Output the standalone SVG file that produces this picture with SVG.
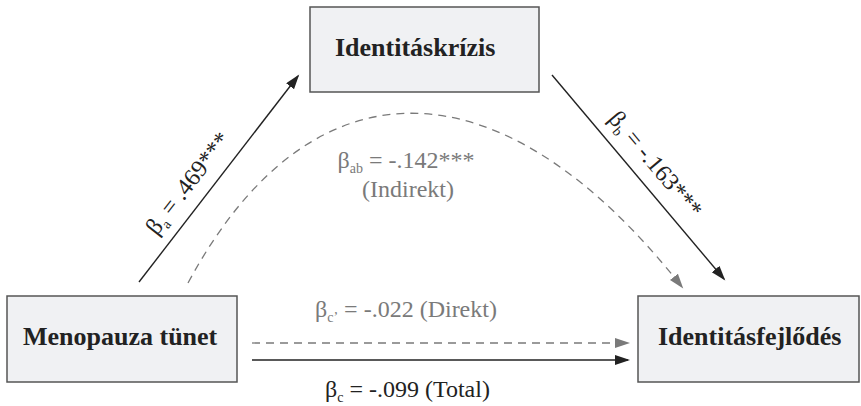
<svg xmlns="http://www.w3.org/2000/svg" width="861" height="406" viewBox="0 0 861 406">
<style>
.box{fill:#f0f1f3;stroke:#555;stroke-width:1.5}
.nt{font-family:"Liberation Serif","Times New Roman",serif;font-weight:bold;font-size:26px;fill:#222}
.lb{font-family:"Liberation Serif","Times New Roman",serif;font-size:24px;fill:#222}
.gr{fill:#7a7a7a}
.sub{font-size:14px}
.solid{fill:none;stroke:#222;stroke-width:1.4}
.dash{fill:none;stroke:#7a7a7a;stroke-width:1.3;stroke-dasharray:8 6}
</style>
<defs>
<marker id="ab" markerUnits="userSpaceOnUse" markerWidth="16" markerHeight="12" refX="13" refY="5" orient="auto"><path d="M0,0 L15,5 L0,10 z" fill="#222"/></marker>
<marker id="ag" markerUnits="userSpaceOnUse" markerWidth="16" markerHeight="12" refX="13" refY="5" orient="auto"><path d="M0,0 L15,5 L0,10 z" fill="#7a7a7a"/></marker>
</defs>
<g id="connectors">
<line class="solid" x1="139" y1="282" x2="298" y2="76" marker-end="url(#ab)"/>
<line class="solid" x1="552" y1="75" x2="724" y2="279" marker-end="url(#ab)"/>
<path class="dash" d="M188,283 C310,56 500,56 682,287" marker-end="url(#ag)"/>
<line class="dash" x1="252" y1="343" x2="628" y2="343" marker-end="url(#ag)"/>
<line class="solid" x1="252" y1="360" x2="628" y2="360" marker-end="url(#ab)"/>
<g transform="translate(205,196.5) rotate(-52.3)"><text class="lb" x="0" y="-14" text-anchor="middle">β<tspan class="sub" dy="5">a</tspan><tspan dy="-5"> = .469***</tspan></text></g>
<g transform="translate(639,178.3) rotate(49.9)"><text class="lb" x="0" y="-14" text-anchor="middle">β<tspan class="sub" dy="5">b</tspan><tspan dy="-5"> = -.163***</tspan></text></g>
<text class="lb gr" x="406" y="168" text-anchor="middle">β<tspan class="sub" dy="5">ab</tspan><tspan dy="-5"> = -.142***</tspan></text>
<text class="lb gr" x="408" y="197" text-anchor="middle">(Indirekt)</text>
<text class="lb gr" x="315" y="317">β<tspan class="sub" dy="5">c’</tspan><tspan dy="-5"> = -.022 (Direkt)</tspan></text>
<text class="lb" x="325" y="397">β<tspan class="sub" dy="5">c</tspan><tspan dy="-5"> = -.099 (Total)</tspan></text>
</g>
<g id="identitaskrizis"><rect class="box" x="310" y="7" width="229" height="85"/><text class="nt" x="335" y="56">Identitáskrízis</text></g>
<g id="menopauza"><rect class="box" x="7" y="296" width="230" height="86"/><text class="nt" x="23" y="345">Menopauza tünet</text></g>
<g id="identitasfejlodes"><rect class="box" x="638" y="296" width="221" height="86"/><text class="nt" x="658" y="345">Identitásfejlődés</text></g>
</svg>
